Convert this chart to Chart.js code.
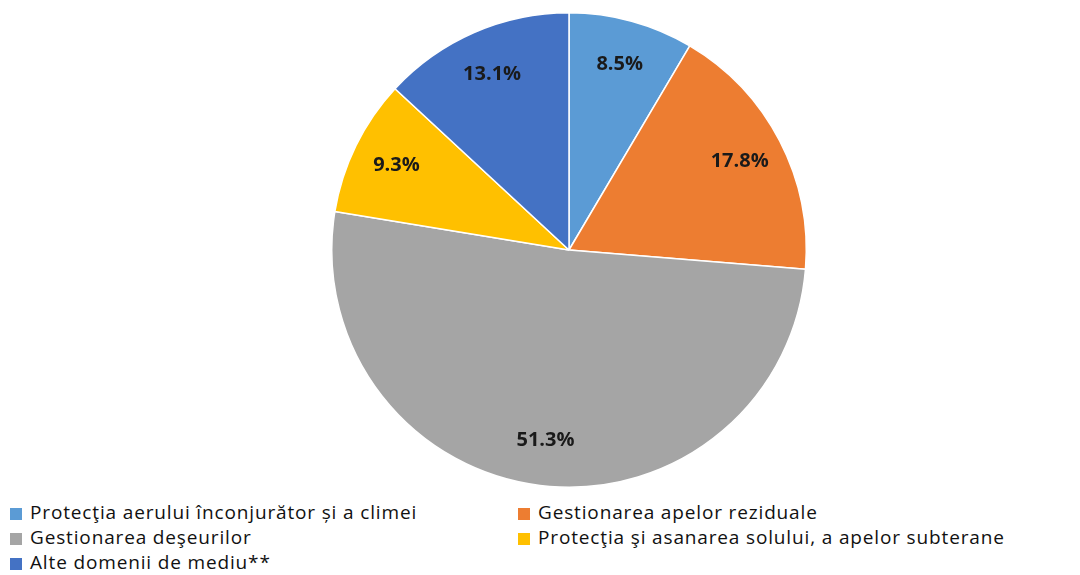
<!DOCTYPE html>
<html>
<head>
<meta charset="utf-8">
<script src="https://cdn.jsdelivr.net/npm/chart.js@4"></script>
<style>
  body { margin: 0; background: #fff; width: 1080px; height: 575px; position: relative; overflow: hidden; }
  #wrap { position: absolute; left: 0; top: 0; width: 1080px; height: 490px; }
  #legend { position: absolute; left: 10px; top: 500px; width: 1070px; font-family: "Open Sans", sans-serif; font-size: 19px; letter-spacing: 0.85px; color: #111; }
  .item { position: absolute; white-space: nowrap; line-height: 25px; }
  .box { display: inline-block; width: 12px; height: 12px; margin-right: 8px; vertical-align: -1px; }
</style>
</head>
<body>
<div id="wrap"><canvas id="pie"></canvas></div>
<div id="legend"></div>
<script>
var labels = [
  'Protecţia aerului înconjurător și a climei',
  'Gestionarea apelor reziduale',
  'Gestionarea deşeurilor',
  'Protecţia şi asanarea solului, a apelor subterane',
  'Alte domenii de mediu**'
];
var shares = [8.5, 17.8, 51.3, 9.3, 13.1];
var colors = ['#5B9BD5', '#ED7D31', '#A5A5A5', '#FFC000', '#4472C4'];

// percent labels drawn inside the slices
var sliceLabels = {
  id: 'sliceLabels',
  afterDatasetsDraw: function (chart) {
    var ctx = chart.ctx;
    var meta = chart.getDatasetMeta(0);
    ctx.save();
    ctx.font = 'bold 20px "Open Sans", sans-serif';
    ctx.fillStyle = '#1a1a1a';
    ctx.textAlign = 'center';
    ctx.textBaseline = 'middle';
    meta.data.forEach(function (arc, i) {
      var p = arc.getProps(['x', 'y', 'startAngle', 'endAngle', 'outerRadius'], true);
      var mid = (p.startAngle + p.endAngle) / 2;
      var r = p.outerRadius * 0.81;
      ctx.fillText(shares[i].toFixed(1) + '%', p.x + Math.cos(mid) * r, p.y + Math.sin(mid) * r);
    });
    ctx.restore();
  }
};

window.addEventListener('load', function () {
  var ctx = document.getElementById('pie').getContext('2d');
  var chart = new Chart(ctx, {
    type: 'pie',
    data: {
      labels: labels,
      datasets: [{
        data: shares,
        backgroundColor: colors,
        borderColor: '#ffffff',
        borderWidth: 1.5,
        hoverOffset: 0
      }]
    },
    options: {
      responsive: true,
      maintainAspectRatio: false,
      animation: false,
      layout: { padding: { left: 58, right: 0, top: 12, bottom: 2 } },
      plugins: {
        legend: { display: false },
        tooltip: { enabled: false }
      }
    },
    plugins: [sliceLabels]
  });

  // two-column legend like the original
  var legend = document.getElementById('legend');
  labels.forEach(function (name, i) {
    var div = document.createElement('div');
    div.className = 'item';
    div.style.left = (i % 2 === 0 ? 0 : 508) + 'px';
    div.style.top = (Math.floor(i / 2) * 25) + 'px';
    div.innerHTML = '<span class="box" style="background:' + colors[i] + '"></span>' + name;
    legend.appendChild(div);
  });
});
</script>
</body>
</html>
